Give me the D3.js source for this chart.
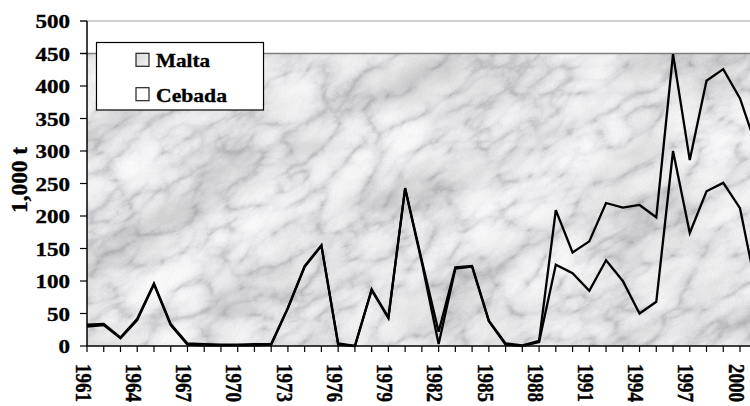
<!DOCTYPE html>
<html>
<head>
<meta charset="utf-8">
<script src="https://cdn.jsdelivr.net/npm/d3@7"></script>
<style>
  body { margin: 0; background: #fff; }
  svg { display: block; }
  text { font-family: "Liberation Serif", "Times New Roman", serif; font-weight: bold; fill: #000; stroke: #000; stroke-width: 0.35px; }
</style>
</head>
<body>
<svg id="chart" width="750" height="406"></svg>
<script>
// Imports in thousand tonnes, by year
const years = [1961,1962,1963,1964,1965,1966,1967,1968,1969,1970,
               1971,1972,1973,1974,1975,1976,1977,1978,1979,1980,
               1981,1982,1983,1984,1985,1986,1987,1988,1989,1990,
               1991,1992,1993,1994,1995,1996,1997,1998,1999,2000,2001];
const cebada = [33,34,13,42,96,34,4,3,2,2,
                3,3,59,123,155,4,0,87,44,243,
                131,22,121,123,39,4,1,8,209,144,
                161,220,213,217,198,449,286,408,426,381,305];
const malta  = [30,32,12,40,95,32,2,1,1,1,
                1,2,58,122,154,2,0,86,43,242,
                128,3,119,122,38,2,0,6,125,112,
                85,132,100,50,68,300,174,238,251,212,85];
const yearLabels = [1961,1964,1967,1970,1973,1976,1979,1982,1985,1988,1991,1994,1997,2000];
const yTicks = [0,50,100,150,200,250,300,350,400,450,500];
const seriesNames = ["Malta", "Cebada"];
const yTitle = "1,000 t";

const svg = d3.select("#chart");
const W = 750;

const x = d3.scaleLinear().domain([1961, 2000]).range([87, 740]);
const y = d3.scaleLinear().domain([0, 500]).range([346, 21]);

// ---- marble texture for the plot background ----
const defs = svg.append("defs");
const f = defs.append("filter").attr("id", "marble")
  .attr("filterUnits", "userSpaceOnUse")
  .attr("x", -400).attr("y", -400).attr("width", 1600).attr("height", 1200)
  .attr("color-interpolation-filters", "sRGB");
const gray = "1 0 0 0 0  1 0 0 0 0  1 0 0 0 0  0 0 0 0 1";

// soft cloudy patches
f.append("feTurbulence").attr("type", "fractalNoise")
  .attr("baseFrequency", "0.009 0.018").attr("numOctaves", 5).attr("seed", 5).attr("result", "cloud");
f.append("feColorMatrix").attr("in", "cloud").attr("type", "matrix").attr("values", gray).attr("result", "cg");
const c1 = f.append("feComponentTransfer").attr("in", "cg").attr("result", "cloudTone");
["R", "G", "B"].forEach(ch => c1.append("feFunc" + ch).attr("type", "table")
  .attr("tableValues", "0.80 0.82 0.86 0.91 0.94 0.96 0.97 0.97"));

// network of darker veins
f.append("feTurbulence").attr("type", "turbulence")
  .attr("baseFrequency", "0.018 0.032").attr("numOctaves", 4).attr("seed", 11).attr("result", "veins");
f.append("feColorMatrix").attr("in", "veins").attr("type", "matrix").attr("values", gray).attr("result", "vg");
const c2 = f.append("feComponentTransfer").attr("in", "vg").attr("result", "veinTone");
["R", "G", "B"].forEach(ch => c2.append("feFunc" + ch).attr("type", "table")
  .attr("tableValues", ch === "B" ? "0.80 0.93 0.99 1 1 1" : "0.78 0.92 0.98 1 1 1"));

f.append("feComposite").attr("in", "cloudTone").attr("in2", "veinTone").attr("operator", "arithmetic")
  .attr("k1", 1).attr("k2", 0).attr("k3", 0).attr("k4", 0).attr("result", "base");

// fine grain
f.append("feTurbulence").attr("type", "fractalNoise")
  .attr("baseFrequency", "0.7").attr("numOctaves", 1).attr("seed", 3).attr("result", "grain");
f.append("feColorMatrix").attr("in", "grain").attr("type", "matrix").attr("values", gray).attr("result", "gg");
f.append("feComposite").attr("in", "base").attr("in2", "gg").attr("operator", "arithmetic")
  .attr("k1", 0).attr("k2", 1).attr("k3", 0.08).attr("k4", -0.03);

defs.append("clipPath").attr("id", "plotClip")
  .append("rect").attr("x", x(1961)).attr("y", y(450))
  .attr("width", W - x(1961)).attr("height", y(0) - y(450));

const bg = svg.append("g").attr("clip-path", "url(#plotClip)");
bg.append("g").attr("transform", "rotate(-30 420 200)")
  .append("rect").attr("x", -200).attr("y", -300).attr("width", 1300).attr("height", 1000)
  .attr("fill", "#e6e6e8").attr("filter", "url(#marble)");

// ---- gray top lines at 450 and 500 ----
svg.append("line").attr("x1", 80).attr("x2", W).attr("y1", y(500)).attr("y2", y(500))
  .attr("stroke", "#a0a0a0").attr("stroke-width", 1.2);
svg.append("line").attr("x1", 80).attr("x2", W).attr("y1", y(450)).attr("y2", y(450))
  .attr("stroke", "#808080").attr("stroke-width", 1.5);

// ---- series lines ----
const line = d3.line().x((d, i) => x(years[i])).y(d => y(d));
[malta, cebada].forEach(vals => {
  svg.append("path").datum(vals).attr("d", line)
    .attr("fill", "none").attr("stroke", "#000").attr("stroke-width", 2.3)
    .attr("stroke-linejoin", "miter");
});

// ---- axes ----
svg.append("line").attr("x1", x(1961)).attr("x2", x(1961)).attr("y1", y(500)).attr("y2", y(0))
  .attr("stroke", "#000").attr("stroke-width", 1.5);
svg.append("line").attr("x1", x(1961)).attr("x2", W).attr("y1", y(0)).attr("y2", y(0))
  .attr("stroke", "#000").attr("stroke-width", 1.5);

svg.selectAll(".yt").data(yTicks).enter().append("line")
  .attr("x1", 80).attr("x2", x(1961)).attr("y1", d => y(d)).attr("y2", d => y(d))
  .attr("stroke", "#000").attr("stroke-width", 1.2);
svg.selectAll(".ylab").data(yTicks).enter().append("text")
  .attr("transform", d => `translate(70,${y(d) + 7.3}) scale(1.18,1)`)
  .attr("text-anchor", "end").attr("font-size", 19.5)
  .text(d => d);

svg.selectAll(".xt").data(years).enter().append("line")
  .attr("x1", d => x(d)).attr("x2", d => x(d)).attr("y1", y(0)).attr("y2", y(0) + 6)
  .attr("stroke", "#000").attr("stroke-width", 1.2);
svg.selectAll(".xlab").data(yearLabels).enter().append("text")
  .attr("transform", d => `translate(${x(d) - 11.3},364) scale(1.25,1) rotate(90)`)
  .attr("text-anchor", "start").attr("font-size", 19)
  .text(d => d);

svg.append("text")
  .attr("transform", "translate(27,180) scale(1.18,1) rotate(-90)")
  .attr("text-anchor", "middle").attr("font-size", 19.5)
  .attr("textLength", 66).attr("lengthAdjust", "spacingAndGlyphs")
  .text(yTitle);

// ---- legend ----
const grad = defs.append("linearGradient").attr("id", "maltaFill")
  .attr("x1", 0).attr("y1", 0).attr("x2", 1).attr("y2", 1);
grad.append("stop").attr("offset", "0%").attr("stop-color", "#dadada");
grad.append("stop").attr("offset", "100%").attr("stop-color", "#f2f2f2");

const lg = svg.append("g");
lg.append("rect").attr("x", 96.5).attr("y", 42.5).attr("width", 167).attr("height", 67.5)
  .attr("fill", "#fff").attr("stroke", "#000").attr("stroke-width", 1.2);
const swatchFill = ["url(#maltaFill)", "#fff"];
const rowY = [67.3, 101.7];
const textLen = [54, 71];
seriesNames.forEach((name, i) => {
  lg.append("rect").attr("x", 136).attr("y", rowY[i] - 14).attr("width", 13).attr("height", 13)
    .attr("fill", swatchFill[i]).attr("stroke", "#222").attr("stroke-width", 1.2);
  lg.append("text").attr("x", 156).attr("y", rowY[i]).attr("font-size", 19.5)
    .attr("textLength", textLen[i]).attr("lengthAdjust", "spacingAndGlyphs")
    .text(name);
});
</script>
</body>
</html>
